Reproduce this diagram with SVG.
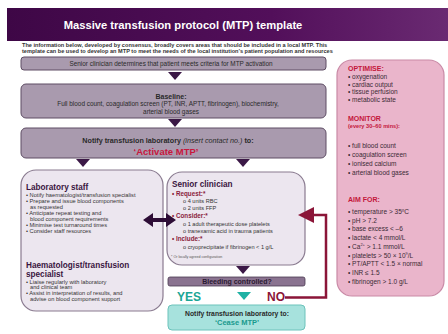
<svg xmlns="http://www.w3.org/2000/svg" width="448" height="334" viewBox="0 0 448 334">
<defs>
<linearGradient id="hdr" x1="0" y1="0" x2="1" y2="0">
<stop offset="0" stop-color="#3e0746"/>
<stop offset="0.6" stop-color="#520f5a"/>
<stop offset="1" stop-color="#6a2a72"/>
</linearGradient>
<style>
text{font-family:"Liberation Sans",Arial,sans-serif;}
.main{fill:#a99aae;stroke:#5e4d64;stroke-width:1;}
.soft{fill:#ece6ef;stroke:#8a7b90;stroke-width:1.2;}
.tri{fill:#3b1846;}
.t6{font-size:6.4px;fill:#2a2a2a;}
.hd{font-size:8.2px;font-weight:bold;fill:#3a1540;}
.bl{font-size:5.7px;fill:#333;}
.sc{font-size:5.6px;fill:#333;}
.scb{font-size:6.3px;font-weight:bold;fill:#8a1c3c;}
.pk{font-size:6.5px;fill:#3a2a35;}
.pkh{font-size:7px;font-weight:bold;fill:#c4173b;}
</style>
</defs>
<rect x="0" y="0" width="448" height="334" fill="#ffffff"/>
<g id="header">
<rect x="7" y="8" width="441" height="33" fill="url(#hdr)"/>
<text x="183" y="29" font-size="11.2" font-weight="bold" fill="#ffffff" text-anchor="middle">Massive transfusion protocol (MTP) template</text>
<text x="22" y="46.5" font-size="5.6" font-weight="bold" fill="#333">The information below, developed by consensus, broadly covers areas that should be included  in a local MTP. This</text>
<text x="22" y="52.5" font-size="5.6" font-weight="bold" fill="#333">template can be used to develop an MTP to meet the needs of the local institution’s patient population and resources</text>
</g>
<g id="activation">
<rect class="main" x="21" y="57" width="305" height="13" rx="3"/>
<text class="t6" x="171" y="65.5" text-anchor="middle">Senior clinician determines that patient meets criteria for MTP activation</text>
</g>
<g id="baseline">
<rect class="main" x="21" y="84" width="305" height="34" rx="5"/>
<text x="171" y="99" font-size="7" font-weight="bold" fill="#2a2a2a" text-anchor="middle">Baseline:</text>
<text class="t6" x="168" y="106" text-anchor="middle">Full blood count, coagulation screen (PT, INR, APTT, fibrinogen), biochemistry,</text>
<text class="t6" x="171" y="113.5" text-anchor="middle">arterial blood gases</text>
</g>
<g id="notify">
<rect class="main" x="21" y="128" width="305" height="30" rx="5"/>
<text x="168" y="143" font-size="7.2" font-weight="bold" fill="#2a2a2a" text-anchor="middle">Notify transfusion laboratory <tspan font-weight="normal" font-style="italic">(insert contact no.)</tspan> to:</text>
<text x="166" y="155" font-size="9.5" font-weight="bold" fill="#c8163c" text-anchor="middle">‘Activate MTP’</text>
</g>
<g id="lab">
<rect class="soft" x="21" y="170" width="142" height="141" rx="15"/>
<text class="hd" x="26" y="190">Laboratory staff</text>
<text class="bl" x="26" y="197">• Notify haematologist/transfusion specialist</text>
<text class="bl" x="26" y="203">• Prepare and issue blood components</text>
<text class="bl" x="30" y="209">as requested</text>
<text class="bl" x="26" y="215">• Anticipate repeat testing and</text>
<text class="bl" x="30" y="220.5">blood component requirements</text>
<text class="bl" x="26" y="226.5">• Minimise test turnaround times</text>
<text class="bl" x="26" y="232.5">• Consider staff resources</text>
<text class="hd" x="26" y="267.5">Haematologist/transfusion</text>
<text class="hd" x="26" y="276.5">specialist</text>
<text class="bl" x="26" y="283.5">• Liaise regularly with laboratory</text>
<text class="bl" x="30" y="289">and clinical team</text>
<text class="bl" x="26" y="295">• Assist in interpretation of results, and</text>
<text class="bl" x="30" y="300.5">advise on blood component support</text>
</g>
<g id="senior">
<rect class="soft" x="167" y="172" width="138" height="93" rx="15"/>
<text class="hd" x="172" y="187">Senior clinician</text>
<text class="scb" x="172" y="195.5">• Request:*</text>
<text class="sc" x="183" y="203">o 4 units RBC</text>
<text class="sc" x="183" y="210">o 2 units FFP</text>
<text class="scb" x="172" y="217.5">• Consider:*</text>
<text class="sc" x="183" y="226">o 1 adult therapeutic dose platelets</text>
<text class="sc" x="183" y="233">o  tranexamic acid in trauma patients</text>
<text class="scb" x="172" y="240.5">• Include:*</text>
<text class="sc" x="183" y="249">o cryoprecipitate if fibrinogen &lt; 1 g/L</text>
<text x="171" y="257.5" font-size="3.6" fill="#555">* Or locally agreed configuration</text>
</g>
<g id="bleeding">
<rect x="168" y="277" width="137" height="9" rx="2" fill="#8a7390" stroke="#4a3a50" stroke-width="0.8"/>
<text x="237" y="284" font-size="7" font-weight="bold" fill="#2a1a30" text-anchor="middle">Bleeding controlled?</text>
</g>
<g id="cease">
<rect x="168" y="305" width="137" height="25" rx="4" fill="#a7e2dd" stroke="#6cc3bb" stroke-width="1"/>
<text x="237" y="315.5" font-size="6.8" font-weight="bold" fill="#2a2a2a" text-anchor="middle">Notify transfusion laboratory to:</text>
<text x="237" y="325" font-size="7.5" font-weight="bold" fill="#1a9a8e" text-anchor="middle">‘Cease MTP’</text>
</g>
<g id="targets">
<rect x="337" y="60" width="107" height="236" rx="15" fill="#eab5cb" stroke="#c98aa6" stroke-width="1.2"/>
<text class="pkh" x="348" y="71">OPTIMISE:</text>
<text class="pk" x="348" y="79">• oxygenation</text>
<text class="pk" x="348" y="86.5">• cardiac output</text>
<text class="pk" x="348" y="94">• tissue perfusion</text>
<text class="pk" x="348" y="101.5">• metabolic state</text>
<text class="pkh" x="348" y="121">MONITOR</text>
<text x="348" y="128" font-size="5.6" font-weight="bold" fill="#c4173b">(every 30–60 mins):</text>
<text class="pk" x="348" y="148">• full blood count</text>
<text class="pk" x="348" y="157">• coagulation screen</text>
<text class="pk" x="348" y="166">• ionised calcium</text>
<text class="pk" x="348" y="175">• arterial blood gases</text>
<text class="pkh" x="348" y="202">AIM FOR:</text>
<text class="pk" x="348" y="214">• temperature &gt; 35ºC</text>
<text class="pk" x="348" y="222.7">• pH &gt; 7.2</text>
<text class="pk" x="348" y="231.4">• base excess &lt; –6</text>
<text class="pk" x="348" y="240">• lactate &lt; 4 mmol/L</text>
<text class="pk" x="348" y="248.8">• Ca<tspan font-size="4" dy="-2.5">2+</tspan><tspan dy="2.5"> &gt; 1.1 mmol/L</tspan></text>
<text class="pk" x="348" y="257.5">• platelets &gt; 50 × 10<tspan font-size="4" dy="-2.5">9</tspan><tspan dy="2.5">/L</tspan></text>
<text class="pk" x="348" y="266">• PT/APTT &lt; 1.5 × normal</text>
<text class="pk" x="348" y="275">• INR ≤ 1.5</text>
<text class="pk" x="348" y="284">• fibrinogen &gt; 1.0 g/L</text>
</g>
<g id="connectors">
<polygon class="tri" points="168,72 182,72 175,80"/>
<polygon class="tri" points="168,119 182,119 175,127"/>
<polygon class="tri" points="76,159 90,159 83,167"/>
<polygon class="tri" points="236,159 250,159 243,167"/>
<polygon class="tri" points="236,266 250,266 243,274"/>
<polygon points="237,292 251,292 244,300" fill="#1fb1a4"/>
<polygon points="143,220 153,213 153,218 166,218 166,213 176,220 166,227 166,222 153,222 153,227" fill="#2e0d36"/>
<text x="177" y="301" font-size="12" font-weight="bold" fill="#1aa595">YES</text>
<text x="267" y="301" font-size="12" font-weight="bold" fill="#8b1538">NO</text>
<polyline points="285,297.5 326,297.5 326,215 312,215" fill="none" stroke="#8b1538" stroke-width="2.5"/>
<polygon points="298,215 314,207 314,223" fill="#8b1538"/>
</g>
</svg>
